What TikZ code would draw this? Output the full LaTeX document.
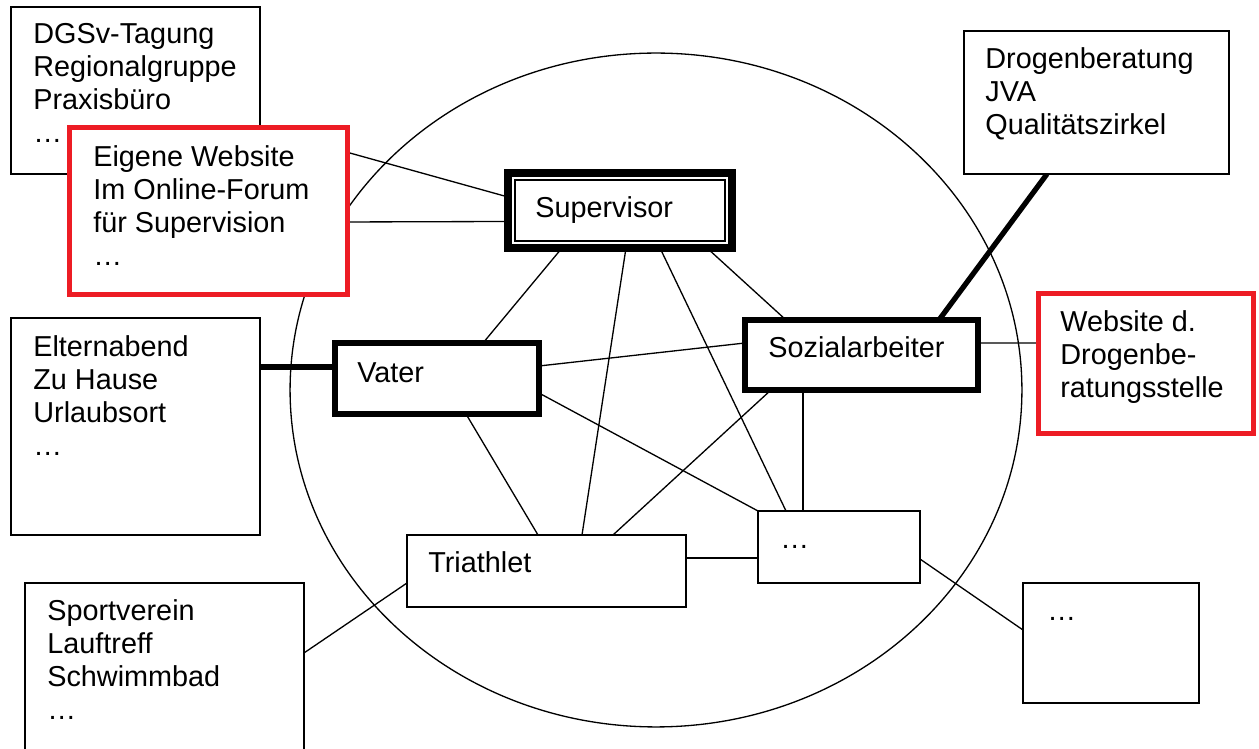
\documentclass[tikz,border=0pt]{standalone}
\usepackage{fontspec}
\setmainfont{Liberation Sans}
\usepackage{tikz}
\usetikzlibrary{calc,backgrounds}
\definecolor{boxred}{RGB}{237,28,36}

\begin{document}
\begin{tikzpicture}[x=0.02cm, y=-0.02cm,
    box/.style={draw, fill=white, line width=0.85pt, inner sep=0pt, outer sep=0pt, anchor=north west},
    boldbox/.style={box, line width=3.2pt},
    redbox/.style={box, draw=boxred, line width=2.85pt},
    supbox/.style={box, line width=4.55pt},
    txt/.style={anchor=base west, align=left, inner sep=0pt, font=\fontsize{16.4}{18.8}\selectfont},
    link/.style={line width=0.75pt},
    boldlink/.style={line width=3pt}]
    \useasboundingbox (0,0) rectangle (1259,749);

    \draw[link] (656,390) ellipse [x radius=7.32cm, y radius=6.74cm];

    % boxes, text anchored at the baseline of the last line
    \node[box, minimum width=4.98cm, minimum height=3.34cm] (dgsv) at (11,7) {};
    \node[txt] (dgsvtext) at (33,143) {DGSv-Tagung\\Regionalgruppe\\Praxisbüro\\…};
    \node[redbox, minimum width=5.56cm, minimum height=3.34cm] (web) at (69.5,127.5) {};
    \node[txt] (webtext) at (93,266) {Eigene Website\\Im Online-Forum\\für Supervision\\…};
    \node[supbox, minimum width=4.48cm, minimum height=1.50cm] (sup) at (508,173) {};
    \draw[line width=1.1pt] ($(sup.north west)+(7,7)$) rectangle ($(sup.south east)+(-7,-7)$);
    \node[txt] (suptext) at (535,218) {Supervisor};
    \node[box, minimum width=5.30cm, minimum height=2.86cm] (drog) at (964,31) {};
    \node[txt] (drogtext) at (985,135) {Drogenberatung\\JVA\\Qualitätszirkel};
    \node[boldbox, minimum width=4.66cm, minimum height=1.40cm] (soz) at (745,320) {};
    \node[txt] (soztext) at (768,358) {Sozialarbeiter};
    \node[redbox, minimum width=4.30cm, minimum height=2.80cm] (webd) at (1038.5,293.5) {};
    \node[txt] (webdtext) at (1060,398) {Website d.\\Drogenbe-\\ratungsstelle};
    \node[box, minimum width=4.98cm, minimum height=4.34cm] (eltern) at (11,318) {};
    \node[txt] (elterntext) at (33,456) {Elternabend\\Zu Hause\\Urlaubsort\\…};
    \node[boldbox, minimum width=4.08cm, minimum height=1.42cm] (vater) at (335,343) {};
    \node[txt] (vatertext) at (357,383) {Vater};
    \node[box, minimum width=5.58cm, minimum height=1.44cm] (tri) at (407,535) {};
    \node[txt] (tritext) at (428,573) {Triathlet};
    \node[box, minimum width=3.24cm, minimum height=1.44cm] (dots) at (758,511) {};
    \node[txt] (dotstext) at (780,549) {…};
    \node[box, minimum width=5.58cm, minimum height=3.54cm] (sport) at (25,583) {};
    \node[txt] (sporttext) at (47,720) {Sportverein\\Lauftreff\\Schwimmbad\\…};
    \node[box, minimum width=3.52cm, minimum height=2.40cm] (dotsb) at (1023,583) {};
    \node[txt] (dotsbtext) at (1047,621) {…};

    \begin{scope}[on background layer]
        \draw[link] ($(dgsv.north east)+(0,121)$) -- ($(sup.north west)+(0,24)$);
        \draw[link] ($(web.east)+(0,11)$) -- ($(sup.west)+(0,11)$);
        \draw[link] ($(sup.south west)+(54,0)$) -- ($(vater.north west)+(148,0)$);
        \draw[link] ($(sup.south west)+(118,0)$) -- ($(tri.north west)+(175,0)$);
        \draw[link] ($(sup.south west)+(152,0)$) -- ($(dots.north west)+(28,0)$);
        \draw[link] ($(sup.south west)+(199,0)$) -- ($(soz.north west)+(41,0)$);
        \draw[link] ($(vater.north east)+(0,23)$) -- ($(soz.north west)+(0,23)$);
        \draw[link] ($(vater.north east)+(0,50)$) -- (dots.north west);
        \draw[link] ($(vater.south west)+(131,0)$) -- ($(tri.north west)+(131,0)$);
        \draw[link] ($(soz.south west)+(26,0)$) -- ($(tri.north west)+(206,0)$);
        \draw[link] ($(soz.south west)+(58,0)$) -- ($(dots.north west)+(45,0)$);
        \draw[link] ($(tri.north east)+(0,23)$) -- ($(dots.north west)+(0,47)$);
        \draw[link] ($(tri.north west)+(0,48)$) -- ($(sport.north east)+(0,70)$);
        \draw[link] ($(dots.north east)+(0,48)$) -- ($(dotsb.north west)+(0,47)$);
        \draw[link] ($(soz.north east)+(0,23)$) -- ($(webd.north west)+(0,49.5)$);
        \draw[boldlink] ($(eltern.north east)+(0,49)$) -- ($(vater.north west)+(0,24)$);
        \draw[boldlink] ($(drog.south west)+(83,0)$) -- ($(soz.north west)+(194,0)$);
    \end{scope}
\end{tikzpicture}
\end{document}
